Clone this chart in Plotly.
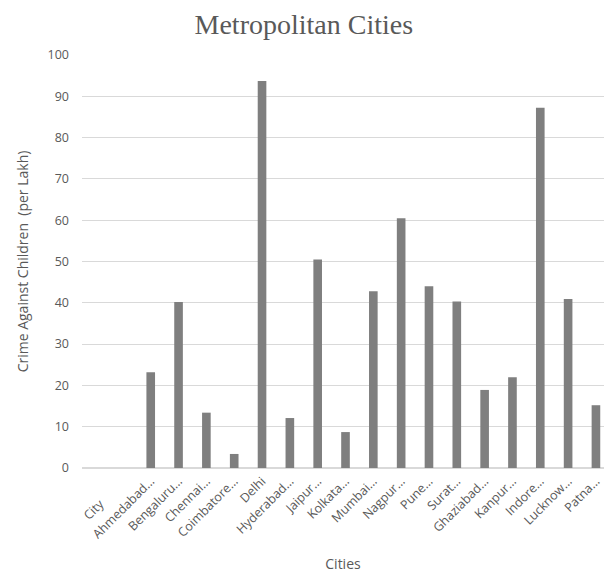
import plotly.graph_objects as go

# Crime against children per lakh population, by metropolitan city
cities = ["City", "Ahmedabad…", "Bengaluru…", "Chennai…", "Coimbatore…", "Delhi",
          "Hyderabad…", "Jaipur…", "Kolkata…", "Mumbai…", "Nagpur…", "Pune…",
          "Surat…", "Ghaziabad…", "Kanpur…", "Indore…", "Lucknow…", "Patna…"]
crime_rate = [None, 23.2, 40.2, 13.4, 3.4, 93.7, 12.1, 50.5, 8.7, 42.8, 60.5, 44.0,
              40.3, 18.9, 22.0, 87.2, 40.9, 15.2]
y_ticks = [0, 10, 20, 30, 40, 50, 60, 70, 80, 90, 100]

# the header cell label carries padding, so its text sits left of its slot
tick_text = ["City" + "\u00a0" * 10] + cities[1:]

label_font = dict(family="Open Sans, Segoe UI, sans-serif", size=12.5, color="#595959")
axis_title_font = dict(family="Open Sans, Segoe UI, sans-serif", size=14, color="#595959")

fig = go.Figure(
    go.Bar(
        x=cities,
        y=crime_rate,
        marker=dict(color="#7f7f7f", line=dict(width=0)),
    )
)

fig.update_layout(
    width=604,
    height=575,
    autosize=False,
    margin=dict(l=82, r=0, t=55, b=107),
    paper_bgcolor="white",
    plot_bgcolor="white",
    bargap=0.69,
    showlegend=False,
    title=dict(
        text="Metropolitan Cities",
        font=dict(family="Liberation Serif, Cambria, serif", size=28, color="#595959"),
        x=0.503, xref="container", xanchor="center",
        y=0.958, yref="container", yanchor="middle",
    ),
)

fig.update_xaxes(
    type="category",
    range=[-1.47, 17.29],
    tickmode="array",
    tickvals=cities,
    ticktext=tick_text,
    tickangle=-45,
    tickfont=label_font,
    showgrid=False,
    showline=True,
    linecolor="#d9d9d9",
    linewidth=1,
    ticks="",
    title=dict(text="Cities", font=axis_title_font, standoff=18),
)

fig.update_yaxes(
    range=[0, 100],
    tickvals=y_ticks,
    tickfont=label_font,
    showgrid=True,
    gridcolor="#d9d9d9",
    gridwidth=1,
    zeroline=True,
    zerolinecolor="#d9d9d9",
    showline=False,
    ticks="",
    ticklabelstandoff=12,
    title=dict(text="Crime Against Children  (per Lakh)", font=axis_title_font, standoff=15),
)

fig.write_html("out.html")
